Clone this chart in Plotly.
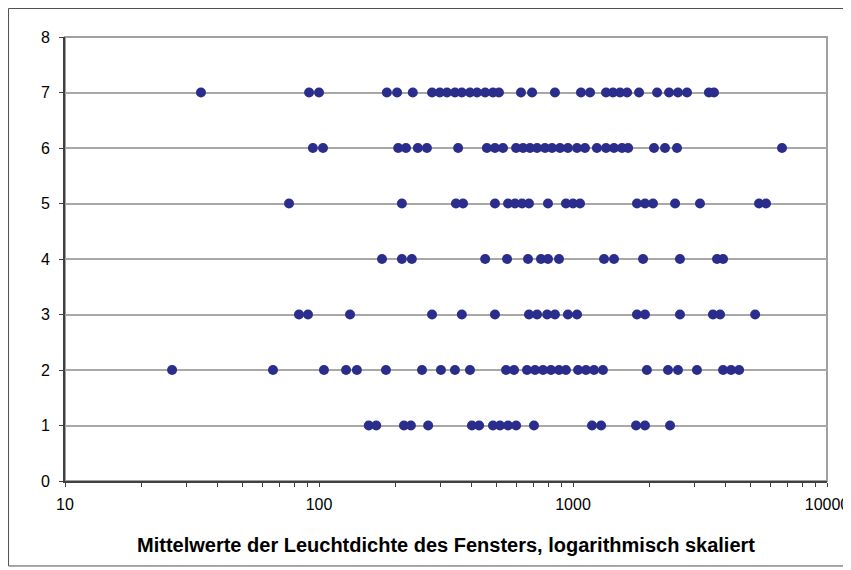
import plotly.graph_objects as go

# Luminance values (cd/m²) per category row
row1 = [157, 168, 216, 230, 269, 400, 427, 484, 516, 555, 597, 702, 1188, 1290, 1771, 1920, 2410]
row2 = [26.4, 65.9, 104.6, 127.8, 141, 183.5, 254.4, 302, 343, 393, 545, 586, 659, 709, 762, 819,
        881, 938, 1047, 1125, 1210, 1312, 1954, 2366, 2590, 3076, 3898, 4191, 4508]
row3 = [83.4, 90.5, 132.5, 278.6, 365, 493, 671, 722, 791, 849, 955, 1037, 1786, 1920, 2637,
        3556, 3793, 5213]
row4 = [177, 212, 232, 451, 550, 665, 748, 797, 881, 1325, 1450, 1887, 2637, 3689, 3898]
row5 = [76.2, 212, 346, 369, 493, 555, 591, 630, 671, 797, 938, 1000, 1066, 1786, 1920, 2065,
        2523, 3162, 5400, 5754]
row6 = [94.6, 103.7, 205, 220, 245, 266, 353, 458, 493, 530, 597, 636, 677, 722, 776, 827, 889,
        955, 1037, 1115, 1242, 1349, 1450, 1560, 1648, 2084, 2303, 2567, 6651]
row7 = [34.3, 91.4, 100, 185, 203, 234, 278.6, 299, 319, 343, 365, 393, 419, 451, 484, 511, 624,
        690, 849, 1075, 1167, 1349, 1437, 1532, 1633, 1820, 2143, 2389, 2590, 2811, 3428, 3590]

rows = [row1, row2, row3, row4, row5, row6, row7]
categories = [1, 2, 3, 4, 5, 6, 7]

xs, ys = [], []
for cat, vals in zip(categories, rows):
    xs.extend(vals)
    ys.extend([cat] * len(vals))

x_title = "Mittelwerte der Leuchtdichte des Fensters, logarithmisch skaliert"

fig = go.Figure()
fig.add_trace(go.Scatter(
    x=xs, y=ys, mode="markers",
    marker=dict(color="#2A2D8C", size=10, line=dict(width=0)),
    showlegend=False, cliponaxis=False,
))

font_family = "Liberation Sans, Arial, sans-serif"

fig.update_layout(
    width=843, height=562,
    margin=dict(l=57, r=24, t=29, b=89),
    paper_bgcolor="white", plot_bgcolor="white",
    font=dict(family=font_family, size=16, color="black"),
    showlegend=False,
    shapes=[
        # plot-area frame (grey)
        dict(type="rect", xref="paper", yref="paper", x0=0, x1=1, y0=0, y1=1,
             line=dict(color="#A0A0A0", width=2), layer="below"),
        # outer chart border
        dict(type="rect", xref="paper", yref="paper",
             x0=-0.0741, x1=1.0276, y0=-0.1914, y1=1.0642,
             line=dict(color="#505050", width=1), layer="below"),
    ],
)

fig.update_xaxes(
    type="log", range=[1, 4], dtick=1,
    tickvals=[10, 100, 1000, 10000], ticktext=["10", "100", "1000", "10000"],
    showgrid=False, zeroline=False,
    showline=True, linecolor="#404040", linewidth=2,
    ticks="outside", ticklen=4, tickcolor="#404040", tickwidth=1,
    minor=dict(ticks="outside", ticklen=4, tickcolor="#404040", dtick="D1", showgrid=False),
    tickfont=dict(size=16, family=font_family),
    ticklabelstandoff=4,
    title=dict(text="<b>" + x_title + "</b>", font=dict(size=20, family=font_family), standoff=26),
    automargin=False,
)

fig.update_yaxes(
    range=[0, 8], dtick=1,
    showgrid=True, gridcolor="#A8A8A8", gridwidth=2,
    zeroline=False,
    showline=True, linecolor="#404040", linewidth=2,
    ticks="outside", ticklen=4, tickcolor="#404040",
    tickfont=dict(size=16, family=font_family),
    ticklabelstandoff=6,
    automargin=False,
)

fig.write_html("out.html")
